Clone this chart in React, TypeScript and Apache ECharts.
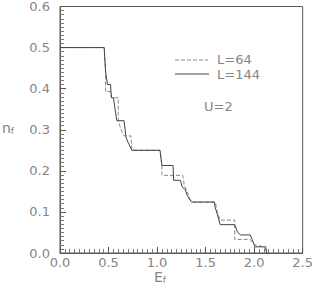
import React, { useEffect, useRef } from "react";
import * as echarts from "echarts";

const E64 = [0, 0.455, 0.47, 0.47, 0.52, 0.53, 0.6, 0.6, 0.63, 0.66, 0.73, 0.74, 1.03, 1.05, 1.05, 1.265, 1.28, 1.31, 1.34, 1.37, 1.6, 1.62, 1.65, 1.8, 1.8, 1.96, 2.0, 2.1, 2.14];
const N64 = [0.5, 0.5, 0.44, 0.393, 0.393, 0.378, 0.378, 0.322, 0.3, 0.285, 0.285, 0.25, 0.25, 0.213, 0.189, 0.189, 0.165, 0.15, 0.13, 0.124, 0.124, 0.1, 0.08, 0.08, 0.033, 0.033, 0.02, 0.015, 0];

const E144 = [0, 0.455, 0.47, 0.49, 0.52, 0.53, 0.55, 0.585, 0.66, 0.68, 0.7, 0.74, 1.03, 1.05, 1.165, 1.17, 1.24, 1.26, 1.29, 1.31, 1.355, 1.59, 1.6, 1.62, 1.65, 1.8, 1.83, 1.86, 1.96, 2.01, 2.12, 2.13];
const N144 = [0.5, 0.5, 0.44, 0.41, 0.41, 0.378, 0.378, 0.322, 0.322, 0.282, 0.27, 0.25, 0.25, 0.213, 0.213, 0.177, 0.177, 0.16, 0.155, 0.14, 0.124, 0.124, 0.11, 0.095, 0.069, 0.069, 0.05, 0.044, 0.044, 0.015, 0.015, 0];

const SERIES_NAMES = ["L=64", "L=144"];
const NOTE = "U=2";

const TEXT = "#858585";
const LINE = "#5a5a5a";
const FONT = "'DejaVu Sans', sans-serif";

export default function App() {
  const ref = useRef<HTMLDivElement>(null);
  useEffect(() => {
    if (!ref.current) return;
    const chart = echarts.init(ref.current, undefined, { renderer: "svg" });
    const mkAxis = (min: number, max: number, interval: number, margin: number) => ({
      type: "value",
      min,
      max,
      interval,
      axisLine: { show: true, onZero: false, lineStyle: { color: LINE, width: 1 } },
      axisTick: { show: true, inside: true, length: 6, lineStyle: { color: "#555", width: 1 } },
      minorTick: { show: true, splitNumber: 10, length: 4, lineStyle: { color: "#777", width: 1 } },
      splitLine: { show: false },
      minorSplitLine: { show: false },
      axisLabel: {
        color: TEXT,
        fontFamily: FONT,
        fontSize: 13,
        margin,
        formatter: (v: number) => v.toFixed(1),
      },
    });
    const sub = (main: string, s: string) => ({
      type: "text",
      style: {
        text: `{a|${main}}{b|${s}}`,
        rich: {
          a: { fill: TEXT, fontFamily: FONT, fontSize: 14 },
          b: { fill: TEXT, fontFamily: FONT, fontSize: 9, padding: [6, 0, 0, 0] },
        },
      },
    });
    chart.setOption({
      animation: false,
      grid: { left: 60, right: 6, top: 5, bottom: 32, show: true, borderColor: LINE, borderWidth: 1 },
      xAxis: mkAxis(0, 2.5, 0.5, 3),
      yAxis: mkAxis(0, 0.6, 0.1, 10),
      graphic: [
        { ...sub("E", "f"), left: 154, top: 270 },
        { ...sub("n", "f"), left: 2, top: 121 },
        {
          type: "line",
          shape: { x1: 175, y1: 60, x2: 208, y2: 60 },
          style: { stroke: "#8a8a8a", lineWidth: 1, lineDash: [4, 2] },
        },
        {
          type: "text",
          left: 217,
          top: 53,
          style: { text: SERIES_NAMES[0], fill: TEXT, font: `13px ${FONT}` },
        },
        {
          type: "line",
          shape: { x1: 175, y1: 74, x2: 209, y2: 74 },
          style: { stroke: "#444", lineWidth: 1 },
        },
        {
          type: "text",
          left: 217,
          top: 68,
          style: { text: SERIES_NAMES[1], fill: TEXT, font: `13px ${FONT}` },
        },
        {
          type: "text",
          left: 204,
          top: 100,
          style: { text: NOTE, fill: TEXT, font: `13px ${FONT}` },
        },
      ],
      series: [
        {
          name: SERIES_NAMES[0],
          type: "line",
          symbol: "none",
          data: E64.map((e, i) => [e, N64[i]]),
          lineStyle: { color: "#8a8a8a", width: 1, type: [4, 2] },
        },
        {
          name: SERIES_NAMES[1],
          type: "line",
          symbol: "none",
          data: E144.map((e, i) => [e, N144[i]]),
          lineStyle: { color: "#444", width: 1 },
        },
      ],
    });
    return () => chart.dispose();
  }, []);
  return <div ref={ref} style={{ width: 316, height: 285, position: "absolute", left: 0, top: 0 }} />;
}
